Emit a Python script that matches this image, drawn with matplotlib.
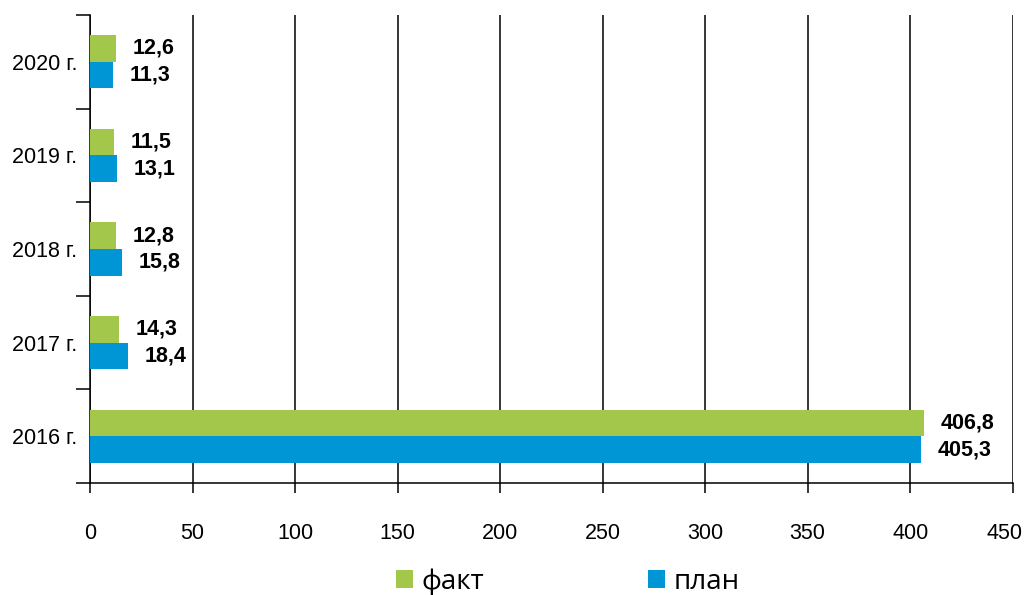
import matplotlib.pyplot as plt
import matplotlib.transforms as mtransforms
import numpy as np
from matplotlib.patches import Patch

# Data
years = ['2016 г.', '2017 г.', '2018 г.', '2019 г.', '2020 г.']
fact = [406.8, 14.3, 12.8, 11.5, 12.6]
plan = [405.3, 18.4, 15.8, 13.1, 11.3]

green = '#A2C74A'
blue = '#0096D6'

plt.rcParams['font.family'] = ['Liberation Sans', 'DejaVu Sans']

fig = plt.figure(figsize=(10.25, 5.95), dpi=100)
ax = fig.add_axes([0.0878, 0.188, 0.9002, 0.787])

y = np.arange(len(years))
h = 0.285
bars_f = ax.barh(y + h / 2, fact, height=h, color=green, zorder=3)
bars_p = ax.barh(y - h / 2, plan, height=h, color=blue, zorder=3)

# value labels, bold, decimal comma
for bars, vals in [(bars_f, fact), (bars_p, plan)]:
    for b, v in zip(bars, vals):
        ax.annotate(f'{v:.1f}'.replace('.', ','),
                    xy=(b.get_width(), b.get_y() + b.get_height() / 2),
                    xytext=(12, 0), textcoords='offset points',
                    ha='left', va='center', fontsize=15.5, fontweight='bold')

ax.set_xlim(0, 450)
ax.set_ylim(-0.5, len(years) - 0.5)
ax.set_xticks(np.arange(0, 451, 50))
ax.set_yticks(y)
ax.set_yticklabels(years)
ax.set_yticks(np.arange(-0.5, len(years), 1), minor=True)

ax.xaxis.grid(True, color='black', linewidth=1.1, zorder=0)
ax.yaxis.grid(False)

for s in ['top', 'right']:
    ax.spines[s].set_visible(False)
for s in ['left', 'bottom']:
    ax.spines[s].set_linewidth(1.1)

ax.tick_params(axis='x', direction='out', length=7, width=1.1, pad=22, labelsize=15.5)
ax.tick_params(axis='y', which='major', length=0, pad=9, labelsize=15.5)
ax.tick_params(axis='y', which='minor', direction='out', length=10, width=1.1)

# keep the last x label inside the figure
last = ax.get_xticklabels()[-1]
last.set_transform(last.get_transform() +
                   mtransforms.ScaledTranslation(-8 / 100, 0, fig.dpi_scale_trans))

handles = [Patch(facecolor=green, label='факт'), Patch(facecolor=blue, label='план')]
fig.legend(handles=handles, loc='center', bbox_to_anchor=(0.554, 0.022), ncol=2,
           frameon=False, handlelength=0.6, handleheight=0.6, handletextpad=0.32,
           columnspacing=5.9, prop={'family': 'Open Sans', 'size': 20})

fig.savefig('out.png', dpi=100)
